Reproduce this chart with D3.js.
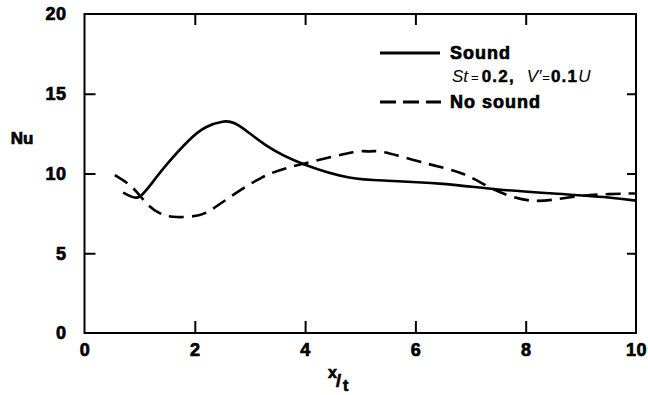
<!DOCTYPE html>
<html>
<head>
<meta charset="utf-8">
<script src="https://cdn.jsdelivr.net/npm/d3@7"></script>
<style>
  body { margin: 0; background: #fff; }
  svg { display: block; font-family: "Liberation Sans", Arial, Helvetica, sans-serif; }
</style>
</head>
<body>
<svg id="chart" width="648" height="395"></svg>
<script>
// ---- data ----
const soundX = [0.7, 0.85, 1.0, 1.2, 1.5, 1.9, 2.2, 2.5, 2.8, 3.3, 4.0, 4.8, 5.5, 6.5, 7.5, 8.5, 9.5, 10];
const soundY = [8.8, 8.55, 8.55, 9.3, 10.6, 12.1, 12.9, 13.25, 13.0, 11.75, 10.55, 9.75, 9.55, 9.35, 9.0, 8.75, 8.5, 8.3];
const noSoundX = [0.55, 0.86, 1.12, 1.37, 1.68, 2.09, 2.46, 3.19, 3.95, 4.87, 5.15, 5.43, 6.23, 6.87, 7.41, 8.1, 8.84, 9.51, 10];
const noSoundY = [9.9, 9.15, 8.15, 7.5, 7.27, 7.4, 8.1, 9.7, 10.6, 11.33, 11.38, 11.33, 10.6, 9.97, 9.03, 8.3, 8.53, 8.71, 8.75];
const xTicks = [0, 2, 4, 6, 8, 10];
const yTicks = [0, 5, 10, 15, 20];
const xDomain = [0, 10];
const yDomain = [0, 20];

const svg = d3.select("#chart");
const L = 84.5, R = 636, T = 14, B = 333;
const x = d3.scaleLinear().domain(xDomain).range([L, R]);
const y = d3.scaleLinear().domain(yDomain).range([B, T]);

const heavy = sel => sel.attr("font-weight", "700").attr("stroke", "#000").attr("stroke-width", 0.7)
  .attr("fill", "#000");

// frame
svg.append("rect").attr("x", L).attr("y", T).attr("width", R - L).attr("height", B - T)
  .attr("fill", "none").attr("stroke", "#000").attr("stroke-width", 2);

const inner = xTicks.filter(d => d > xDomain[0] && d < xDomain[1]);
const innerY = yTicks.filter(d => d > yDomain[0] && d < yDomain[1]);

const bottomAxis = svg.append("g").attr("transform", `translate(0,${B})`)
  .call(d3.axisBottom(x).tickValues(xTicks).tickSizeInner(-12).tickSizeOuter(0).tickPadding(10).tickFormat(d3.format("d")));
const topAxis = svg.append("g").attr("transform", `translate(0,${T})`)
  .call(d3.axisTop(x).tickValues(inner).tickSizeInner(-11).tickSizeOuter(0).tickFormat(""));
const leftAxis = svg.append("g").attr("transform", `translate(${L},0)`)
  .call(d3.axisLeft(y).tickValues(yTicks).tickSizeInner(-11).tickSizeOuter(0).tickPadding(18).tickFormat(d3.format("d")));
const rightAxis = svg.append("g").attr("transform", `translate(${R},0)`)
  .call(d3.axisRight(y).tickValues(innerY).tickSizeInner(-9).tickSizeOuter(0).tickFormat(""));

[bottomAxis, topAxis, leftAxis, rightAxis].forEach(g => {
  g.select(".domain").remove();
  g.selectAll(".tick line").attr("stroke", "#000").attr("stroke-width", 2);
  g.selectAll(".tick text").attr("font-size", 18).call(heavy)
    .attr("font-family", "'Liberation Sans', Arial, sans-serif").attr("letter-spacing", 0.5);
});
bottomAxis.selectAll(".tick").filter(d => d === xDomain[0] || d === xDomain[1]).select("line").remove();
leftAxis.selectAll(".tick").filter(d => d === yDomain[0] || d === yDomain[1]).select("line").remove();

// axis titles
svg.append("text").attr("x", 22).attr("y", 140).attr("text-anchor", "middle")
  .attr("dominant-baseline", "middle").attr("font-size", 17).call(heavy).text("Nu");

const xt = svg.append("g").attr("transform", "translate(328,0)");
xt.append("text").attr("x", 0).attr("y", 378).attr("font-size", 16).call(heavy).text("x");
xt.append("text").attr("x", 8).attr("y", 387).attr("font-size", 18).call(heavy).text("/");
xt.append("text").attr("x", 15).attr("y", 391).attr("font-size", 16).call(heavy).text("t");

// curves
const line = d3.line().x(d => x(d[0])).y(d => y(d[1])).curve(d3.curveNatural);
const plot = svg.append("g");
plot.append("path").datum(d3.zip(soundX, soundY)).attr("d", line)
  .attr("fill", "none").attr("stroke", "#000").attr("stroke-width", 2.6);
plot.append("path").datum(d3.zip(noSoundX, noSoundY)).attr("d", line)
  .attr("fill", "none").attr("stroke", "#000").attr("stroke-width", 2.6)
  .attr("stroke-dasharray", "15,8");

// legend
const lg = svg.append("g");
lg.append("line").attr("x1", 380).attr("x2", 440).attr("y1", 53).attr("y2", 53)
  .attr("stroke", "#000").attr("stroke-width", 2.8);
lg.append("text").attr("x", 450).attr("y", 59).attr("font-size", 18).attr("letter-spacing", 1).call(heavy).text("Sound");

const boldPart = s => s.attr("font-weight", "700").attr("stroke", "#000").attr("stroke-width", 0.5).attr("letter-spacing", 1.2);
const st = lg.append("text").attr("x", 452).attr("y", 82).attr("font-size", 17);
st.append("tspan").attr("font-style", "italic").text("St");
st.append("tspan").attr("dx", 3).attr("font-size", 13).text("=");
st.append("tspan").attr("dx", 3).call(boldPart).text("0.2,");
st.append("tspan").attr("dx", 12).attr("font-style", "italic").text("V′");
st.append("tspan").attr("dx", 1).attr("font-size", 13).text("=");
st.append("tspan").attr("dx", 1).call(boldPart).text("0.1");
st.append("tspan").attr("font-style", "italic").text("U");

lg.append("line").attr("x1", 380).attr("x2", 441).attr("y1", 102).attr("y2", 102)
  .attr("stroke", "#000").attr("stroke-width", 2.8).attr("stroke-dasharray", "16,7");
lg.append("text").attr("x", 450).attr("y", 108).attr("font-size", 18).attr("letter-spacing", 1).call(heavy).text("No sound");
</script>
</body>
</html>
